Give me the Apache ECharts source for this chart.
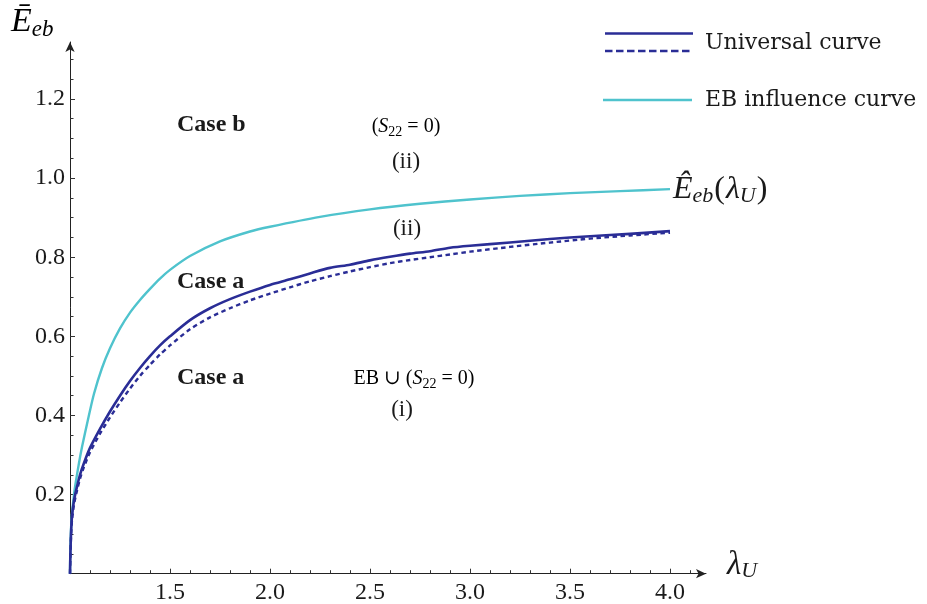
<!DOCTYPE html>
<html>
<head>
<meta charset="utf-8">
<script src="https://cdn.jsdelivr.net/npm/echarts@6/dist/echarts.min.js"></script>
<style>
  html, body { margin: 0; padding: 0; background: #fff; }
  #chart { width: 927px; height: 604px; }
</style>
</head>
<body>
<div id="chart"></div>
<script>
// λ_U values and the three curves drawn over them
const universalX = [1.0, 1.002, 1.005, 1.01, 1.02, 1.035, 1.05, 1.07, 1.1, 1.15, 1.2, 1.25, 1.3, 1.35, 1.4, 1.45, 1.5, 1.6, 1.7, 1.8, 1.9, 2.0, 2.1, 2.2, 2.3, 2.4, 2.5, 2.6, 2.7, 2.8, 2.9, 3.0, 3.2, 3.4, 3.6, 3.8, 4.0];
const universalSolid = [0, 0.05, 0.1, 0.145, 0.185, 0.22, 0.25, 0.28, 0.318, 0.366, 0.41, 0.45, 0.487, 0.52, 0.55, 0.577, 0.6, 0.641, 0.671, 0.694, 0.713, 0.73, 0.744, 0.759, 0.773, 0.781, 0.792, 0.801, 0.809, 0.815, 0.824, 0.829, 0.837, 0.846, 0.853, 0.859, 0.866];
const universalDashed = [0, 0.04, 0.09, 0.135, 0.175, 0.21, 0.24, 0.27, 0.307, 0.354, 0.395, 0.433, 0.468, 0.5, 0.528, 0.554, 0.577, 0.618, 0.648, 0.671, 0.691, 0.708, 0.724, 0.739, 0.752, 0.764, 0.775, 0.785, 0.793, 0.8, 0.807, 0.814, 0.826, 0.837, 0.847, 0.855, 0.862];

const influenceX = [1.0, 1.002, 1.008, 1.02, 1.03, 1.045, 1.06, 1.09, 1.12, 1.16, 1.2, 1.25, 1.3, 1.35, 1.4, 1.45, 1.5, 1.6, 1.75, 1.9, 2.0, 2.25, 2.5, 2.75, 3.0, 3.25, 3.5, 3.75, 4.0];
const influenceY = [0, 0.07, 0.14, 0.2, 0.235, 0.28, 0.32, 0.39, 0.455, 0.52, 0.57, 0.62, 0.66, 0.692, 0.72, 0.746, 0.768, 0.803, 0.84, 0.865, 0.877, 0.902, 0.921, 0.935, 0.946, 0.955, 0.962, 0.967, 0.972];

// tick positions and labels
const xMajorTicks = [1.5, 2.0, 2.5, 3.0, 3.5, 4.0];
const xMinorTicks = [1.1, 1.2, 1.3, 1.4, 1.6, 1.7, 1.8, 1.9, 2.1, 2.2, 2.3, 2.4, 2.6, 2.7, 2.8, 2.9, 3.1, 3.2, 3.3, 3.4, 3.6, 3.7, 3.8, 3.9, 4.1];
const yMajorTicks = [0.2, 0.4, 0.6, 0.8, 1.0, 1.2];
const yMinorTicks = [0.05, 0.1, 0.15, 0.25, 0.3, 0.35, 0.45, 0.5, 0.55, 0.65, 0.7, 0.75, 0.85, 0.9, 0.95, 1.05, 1.1, 1.15, 1.25, 1.3];

const legendNames = ['Universal curve', 'EB influence curve'];

const SERIF = '"Liberation Serif", "DejaVu Serif", serif';
const INK = '#1a1a1a';
const BLUE = '#2a2d96';
const CYAN = '#4fc3cd';

const zip = (xs, ys) => xs.map((x, i) => [x, ys[i]]);

const chart = echarts.init(document.getElementById('chart'), null, { renderer: 'canvas' });

const axisLineStyle = { color: '#222', width: 1 };
const tickFmt = v => Number(v).toFixed(1);

// rich-text styles for the math labels
const mathRich = (size) => ({
  E: { fontFamily: SERIF, fontStyle: 'italic', fontSize: size, color: INK, lineHeight: size + 4 },
  s: { fontFamily: SERIF, fontStyle: 'italic', fontSize: Math.round(size * 0.68), color: INK, verticalAlign: 'bottom', lineHeight: Math.round(size * 0.66) },
  p: { fontFamily: SERIF, fontSize: size, color: INK, lineHeight: size + 4, padding: [0, 1, 0, 1] }
});

const textEl = (x, y, text, opts) => ({
  type: 'text',
  x: x, y: y,
  silent: true,
  style: Object.assign({
    text: text,
    fill: INK,
    font: '22px ' + SERIF,
    align: 'center',
    verticalAlign: 'middle'
  }, opts || {})
});

const curveSeries = (name, xs, ys, lineStyle, z, extra) => Object.assign({
  name: name,
  type: 'line',
  data: zip(xs, ys),
  showSymbol: false,
  smooth: 0.25,
  lineStyle: lineStyle,
  z: z
}, extra || {});

const option = {
  animation: false,
  backgroundColor: '#fff',
  grid: { left: 70, right: 221, top: 42, bottom: 30.3, containLabel: false, outerBoundsMode: 'none' },
  xAxis: [
    {
      type: 'value', min: 1, max: 4.18,
      axisLine: { onZero: false, lineStyle: axisLineStyle, symbol: ['none', 'arrow'], symbolSize: [7, 10] },
      axisTick: { show: true, inside: true, length: 5, customValues: xMajorTicks, lineStyle: { color: '#333' } },
      axisLabel: { customValues: xMajorTicks, formatter: tickFmt, fontFamily: SERIF, fontSize: 24, color: INK, margin: 7 },
      splitLine: { show: false },
      name: '{l|λ}{s|U}',
      nameLocation: 'end',
      nameGap: 21,
      nameTextStyle: {
        verticalAlign: 'middle',
        padding: [0, 0, 16, 0],
        rich: {
          l: { fontFamily: SERIF, fontStyle: 'italic', fontSize: 33, color: INK, lineHeight: 34 },
          s: { fontFamily: SERIF, fontStyle: 'italic', fontSize: 22, color: INK, verticalAlign: 'bottom', lineHeight: 20 }
        }
      }
    },
    {
      type: 'value', min: 1, max: 4.18, position: 'bottom',
      axisLine: { show: false, onZero: false },
      axisTick: { show: true, inside: true, length: 3.5, customValues: xMinorTicks, lineStyle: { color: '#333' } },
      axisLabel: { show: false },
      splitLine: { show: false }
    }
  ],
  yAxis: [
    {
      type: 'value', min: 0, max: 1.344, position: 'left',
      axisLine: { onZero: false, lineStyle: axisLineStyle, symbol: ['none', 'arrow'], symbolSize: [7, 10] },
      axisTick: { show: true, inside: true, length: 5, customValues: yMajorTicks, lineStyle: { color: '#333' } },
      axisLabel: { customValues: yMajorTicks, formatter: tickFmt, fontFamily: SERIF, fontSize: 24, color: INK, margin: 5 },
      splitLine: { show: false }
    },
    {
      type: 'value', min: 0, max: 1.344, position: 'left',
      axisLine: { show: false, onZero: false },
      axisTick: { show: true, inside: true, length: 3.5, customValues: yMinorTicks, lineStyle: { color: '#333' } },
      axisLabel: { show: false },
      splitLine: { show: false }
    }
  ],
  series: [
    curveSeries('EB influence curve', influenceX, influenceY, { color: CYAN, width: 2.4, join: 'round' }, 2, {
      endLabel: {
        show: true,
        distance: 3,
        formatter: '{E|Ê}{s|eb}{p|(}{E|λ}{s|U}{p|)}',
        rich: mathRich(32)
      }
    }),
    curveSeries('Universal curve (dashed)', universalX, universalDashed, { color: BLUE, width: 2.4, type: [4.5, 3.5], join: 'round' }, 3),
    curveSeries('Universal curve', universalX, universalSolid, { color: BLUE, width: 2.6, join: 'round' }, 4)
  ],
  graphic: [
    // vertical axis name
    {
      type: 'text', x: 11, y: 22, silent: true,
      style: {
        text: '{E|Ē}{s|eb}',
        align: 'left', verticalAlign: 'middle',
        rich: {
          E: { fontFamily: SERIF, fontStyle: 'italic', fontSize: 34, color: INK, lineHeight: 38 },
          s: { fontFamily: SERIF, fontStyle: 'italic', fontSize: 23, color: INK, verticalAlign: 'bottom', lineHeight: 21 }
        }
      }
    },
    // legend
    { type: 'line', silent: true, shape: { x1: 605, y1: 33.5, x2: 693, y2: 33.5 }, style: { stroke: BLUE, lineWidth: 2.6 } },
    { type: 'line', silent: true, shape: { x1: 605, y1: 51, x2: 693, y2: 51 }, style: { stroke: BLUE, lineWidth: 2.6, lineDash: [7.5, 3.5] } },
    textEl(705, 43, legendNames[0], { align: 'left', font: '22px "DejaVu Serif", serif' }),
    { type: 'line', silent: true, shape: { x1: 603, y1: 100, x2: 692, y2: 100 }, style: { stroke: CYAN, lineWidth: 2.6 } },
    textEl(705, 100, legendNames[1], { align: 'left', font: '22px "DejaVu Serif", serif' }),
    // region annotations
    textEl(177, 125, 'Case b', { align: 'left', font: 'bold 24px ' + SERIF }),
    {
      type: 'text', x: 406, y: 127, silent: true,
      style: {
        text: '{r|(}{i|S}{s|22}{r| = 0)}',
        align: 'center', verticalAlign: 'middle',
        rich: {
          r: { fontFamily: SERIF, fontSize: 20, color: INK, lineHeight: 24 },
          i: { fontFamily: SERIF, fontStyle: 'italic', fontSize: 20, color: INK, lineHeight: 24 },
          s: { fontFamily: SERIF, fontSize: 14, color: INK, verticalAlign: 'bottom', lineHeight: 15 }
        }
      }
    },
    textEl(406, 162, '(ii)', { font: '23px ' + SERIF }),
    textEl(407, 229, '(ii)', { font: '23px ' + SERIF }),
    textEl(177, 282, 'Case a', { align: 'left', font: 'bold 24px ' + SERIF }),
    textEl(177, 378, 'Case a', { align: 'left', font: 'bold 24px ' + SERIF }),
    {
      type: 'text', x: 414, y: 379, silent: true,
      style: {
        text: '{r|EB ∪ (}{i|S}{s|22}{r| = 0)}',
        align: 'center', verticalAlign: 'middle',
        rich: {
          r: { fontFamily: SERIF, fontSize: 20, color: INK, lineHeight: 24 },
          i: { fontFamily: SERIF, fontStyle: 'italic', fontSize: 20, color: INK, lineHeight: 24 },
          s: { fontFamily: SERIF, fontSize: 14, color: INK, verticalAlign: 'bottom', lineHeight: 15 }
        }
      }
    },
    textEl(402, 410, '(i)', { font: '23px ' + SERIF })
  ]
};

chart.setOption(option);
</script>
</body>
</html>
